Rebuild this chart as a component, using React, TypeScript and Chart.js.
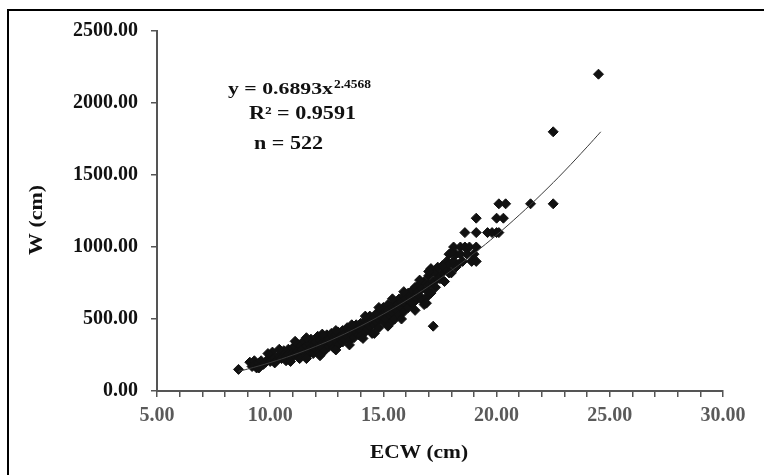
import React, { useEffect, useRef } from "react";
import { Chart, registerables } from "chart.js";

Chart.register(...registerables);

// Observed data (ECW in cm, W)
const ecw = [
  8.6, 9.1, 9.2, 9.3, 9.3, 9.4, 9.5, 9.6, 9.7, 9.8, 9.9,
  10.0, 10.0, 10.1, 10.2, 10.3, 10.4, 10.5, 10.5, 10.6, 10.7, 10.7, 10.8, 10.8, 10.9,
  11.0, 11.0, 11.0, 11.1, 11.2, 11.2, 11.3, 11.3, 11.4, 11.5, 11.5, 11.6, 11.6, 11.7, 11.7,
  11.8, 11.8, 11.9, 11.9, 12.0, 12.0, 12.1, 12.1, 12.2, 12.2, 12.3, 12.3, 12.4, 12.4,
  12.5, 12.5, 12.6, 12.6, 12.7, 12.7, 12.8, 12.8, 12.9, 12.9, 13.0, 13.0, 13.1, 13.1,
  13.2, 13.2, 13.3, 13.3, 13.4, 13.4, 13.5, 13.5, 13.6, 13.6, 13.7, 13.7, 13.8, 13.8,
  13.9, 13.9, 14.0, 14.0, 14.0, 14.1, 14.2, 14.2, 14.3, 14.3, 14.4, 14.4, 14.5, 14.5,
  14.6, 14.6, 14.7, 14.7, 14.8, 14.8, 14.9, 14.9, 15.0, 15.0, 15.1, 15.1, 15.2, 15.2,
  15.3, 15.3, 15.4, 15.4, 15.5, 15.5, 15.6, 15.6, 15.7, 15.7, 15.8, 15.8, 15.9, 15.9,
  16.0, 16.0, 16.1, 16.1, 16.2, 16.2, 16.3, 16.3, 16.4, 16.4, 16.5, 16.5, 16.6, 16.6,
  16.7, 16.7, 16.8, 16.8, 16.9, 16.9, 17.0, 17.0, 17.1, 17.1, 17.2, 17.2, 17.3, 17.3,
  17.4, 17.5, 17.6, 17.7, 17.8, 17.8, 17.9, 17.9, 18.0, 18.1, 18.1, 18.2, 18.3, 18.4,
  18.4, 18.5, 18.6, 18.6, 18.7, 18.8, 18.9, 19.0, 19.1, 19.1, 19.1, 19.1, 19.6, 19.8,
  20.0, 20.1, 20.0, 20.3, 20.1, 20.4, 21.5, 22.5, 22.5, 24.5,
  9.5, 10.2, 10.9, 11.6, 12.2, 12.9, 13.5, 14.1, 14.6, 15.2, 15.8, 16.4, 16.9,
  9.9, 10.4, 11.1, 11.6, 12.3, 12.9, 13.6, 14.2, 14.8, 15.4, 15.9, 16.6, 17.0,
  17.6, 17.9, 18.2, 17.4, 18.0,
];
const weight = [
  150, 200, 170, 210, 180, 160, 195, 210, 185, 200, 220,
  250, 205, 270, 230, 215, 245, 260, 225, 280, 240, 210, 290, 255, 230,
  300, 265, 240, 310, 280, 250, 320, 225, 290, 350, 265, 310, 240, 330, 280,
  300, 360, 260, 320, 340, 290, 380, 310, 270, 350, 330, 300, 370, 280,
  390, 340, 310, 360, 400, 330, 300, 370, 350, 390, 410, 320, 360, 380,
  340, 420, 400, 360, 440, 380, 350, 410, 430, 390, 370, 450, 410, 460,
  390, 430, 470, 420, 380, 450, 490, 410, 470, 430, 520, 450, 400, 490,
  510, 460, 540, 480, 500, 440, 560, 520, 580, 480, 540, 500, 600, 560,
  520, 470, 580, 540, 620, 500, 560, 600, 640, 530, 580, 620, 550, 660,
  600, 640, 580, 680, 620, 650, 700, 610, 660, 720, 640, 690, 740, 660,
  710, 630, 600, 760, 700, 650, 740, 800, 680, 850, 450, 760, 820, 720,
  860, 780, 820, 760, 840, 900, 950, 880, 820, 900, 1000, 950, 880, 1000,
  950, 900, 1000, 1100, 950, 1000, 900, 950, 1000, 900, 1100, 1200, 1100, 1100,
  1100, 1100, 1200, 1200, 1300, 1300, 1300, 1300, 1800, 2200,
  160, 195, 205, 225, 245, 285, 320, 365, 400, 450, 500, 560, 610,
  260, 290, 345, 370, 395, 420, 460, 520, 580, 640, 690, 770, 830,
  870, 820, 860, 780, 960,
];

// Power trend line y = 0.6893x^2.4568, values read at these ECW positions
const trendX = [8.6, 9, 10, 11, 12, 13, 14, 15, 16, 17, 18, 19, 20, 21, 22, 23, 24, 24.6];
const trendY = [136.3, 152.3, 197.3, 249.5, 308.9, 375.8, 451.1, 534.5, 626.3, 726.7, 836.5, 955.2, 1083.6, 1221.8, 1369.7, 1527.5, 1695.7, 1800];

const xTickValues = [5, 10, 15, 20, 25, 30];
const yTickValues = [0, 500, 1000, 1500, 2000, 2500];

const eqMain = "y = 0.6893x";
const eqExp = "2.4568";
const eqR2 = "R² = 0.9591";
const eqN = "n = 522";
const xTitle = "ECW (cm)";
const yTitle = "W (cm)";

const SERIF = '"Liberation Serif", "Times New Roman", serif';

function stretchText(
  ctx: CanvasRenderingContext2D,
  text: string,
  x: number,
  y: number,
  size: number,
  targetWidth: number,
  color: string,
  rotate = false
) {
  ctx.save();
  ctx.font = `bold ${size}px ${SERIF}`;
  ctx.fillStyle = color;
  ctx.textBaseline = "alphabetic";
  ctx.textAlign = "left";
  const w = ctx.measureText(text).width;
  const sx = targetWidth / w;
  ctx.translate(x, y);
  if (rotate) ctx.rotate(-Math.PI / 2);
  ctx.scale(sx, 1);
  ctx.fillText(text, 0, 0);
  ctx.restore();
}

const textPlugin = {
  id: "textPlugin",
  afterDraw(chart: any) {
    const ctx = chart.ctx as CanvasRenderingContext2D;
    stretchText(ctx, eqMain, 228, 94, 17, 105, "#111");
    stretchText(ctx, eqExp, 334, 88, 12, 37, "#111");
    stretchText(ctx, eqR2, 249, 119, 18, 107, "#111");
    stretchText(ctx, eqN, 254, 149, 18, 69, "#111");
    stretchText(ctx, xTitle, 370, 458, 19, 98, "#111");
    stretchText(ctx, yTitle, 42, 255, 18, 70, "#111", true);
  },
};

export default function App() {
  const canvasRef = useRef<HTMLCanvasElement | null>(null);

  useEffect(() => {
    if (!canvasRef.current) return;
    const scatter = ecw.map((x, i) => ({ x, y: weight[i] }));
    const trend = trendX.map((x, i) => ({ x, y: trendY[i] }));
    const chart = new Chart(canvasRef.current, {
      type: "scatter",
      data: {
        datasets: [
          {
            type: "line",
            data: trend,
            borderColor: "#3a3a3a",
            borderWidth: 1,
            pointRadius: 0,
            tension: 0.4,
            fill: false,
            order: 0,
          } as any,
          {
            data: scatter,
            pointStyle: "rectRot",
            pointRadius: 5,
            pointBackgroundColor: "#111",
            pointBorderColor: "#111",
            pointBorderWidth: 1,
            order: 1,
          },
        ],
      },
      options: {
        responsive: false,
        animation: false,
        layout: { padding: { top: 31, right: 41, left: 0, bottom: 0 } },
        plugins: {
          legend: { display: false },
          tooltip: { enabled: false },
        },
        scales: {
          x: {
            type: "linear",
            min: xTickValues[0],
            max: xTickValues[xTickValues.length - 1],
            ticks: {
              stepSize: 1,
              autoSkip: false,
              maxRotation: 0,
              padding: 7,
              color: "#5a5a5a",
              font: { family: SERIF, size: 20, weight: "bold" },
              callback: (v: any) => (xTickValues.includes(Number(v)) ? Number(v).toFixed(2) : ""),
            },
            grid: {
              drawOnChartArea: false,
              drawTicks: true,
              tickLength: 6,
              color: "#555",
              lineWidth: 1.5,
            },
            border: { color: "#555", width: 2 },
            afterFit: (s: any) => {
              s.height = 84;
            },
          },
          y: {
            type: "linear",
            min: yTickValues[0],
            max: yTickValues[yTickValues.length - 1],
            ticks: {
              stepSize: 500,
              padding: 13,
              color: "#111",
              font: { family: SERIF, size: 20, weight: "bold" },
              callback: (v: any) => Number(v).toFixed(2),
            },
            grid: {
              drawOnChartArea: false,
              drawTicks: true,
              tickLength: 6,
              color: "#555",
              lineWidth: 1.5,
            },
            border: { color: "#555", width: 2 },
            afterFit: (s: any) => {
              s.width = 157;
            },
          },
        },
      },
      plugins: [textPlugin],
    });
    return () => chart.destroy();
  }, []);

  return (
    <div
      style={{
        position: "absolute",
        left: 0,
        top: 0,
        width: 764,
        height: 475,
        overflow: "hidden",
        background: "#fff",
      }}
    >
      <canvas ref={canvasRef} width={764} height={475} style={{ display: "block" }} />
      <div
        style={{
          position: "absolute",
          left: 7,
          top: 9,
          right: -20,
          bottom: -20,
          borderLeft: "2px solid #000",
          borderTop: "2px solid #000",
          pointerEvents: "none",
        }}
      />
    </div>
  );
}
